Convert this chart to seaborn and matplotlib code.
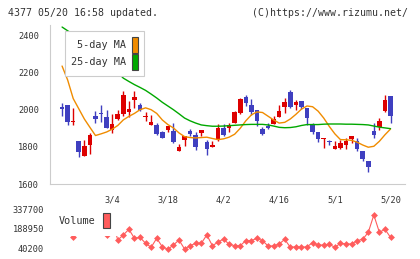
import numpy as np
import matplotlib
matplotlib.use("Agg")
import matplotlib.pyplot as plt
from matplotlib.patches import Patch
import seaborn as sns

sns.set_theme(style="white")
plt.rcParams['font.family'] = ['DejaVu Sans Mono', 'DejaVu Sans']

# daily candles (61 trading days up to 5/20)
opens = [2056, 2016, 2027, 1932, 1834, 1750, 1809, 1968, 1984, 1962,
         1889, 1952, 1977, 1989, 2052, 2027, 1962, 1916, 1920, 1878,
         1889, 1887, 1777, 1839, 1884, 1866, 1875, 1825, 1798, 1839,
         1902, 1902, 1929, 1982, 2071, 2027, 2000, 1896, 1914, 1923,
         1959, 2014, 2093, 2027, 2045, 2009, 1920, 1880, 1841, 1834,
         1789, 1795, 1812, 1843, 1830, 1777, 1723, 1887, 1907, 1991, 2075]
highs = [2060, 2036, 2027, 2009, 1834, 1836, 1875, 1995, 2023, 1998,
         1979, 2000, 2102, 2047, 2098, 2036, 1986, 1973, 1929, 1884,
         1914, 1929, 1816, 1861, 1896, 1878, 1893, 1836, 1830, 1923,
         1921, 1929, 1991, 2063, 2080, 2057, 2000, 1907, 1929, 1964,
         2023, 2063, 2107, 2054, 2045, 2009, 1929, 1880, 1845, 1839,
         1830, 1839, 1848, 1861, 1848, 1777, 1723, 1929, 1955, 2080, 2075]
lows = [2056, 1968, 1916, 1918, 1744, 1750, 1759, 1927, 1934, 1900,
        1873, 1946, 1964, 1961, 2007, 1991, 1941, 1916, 1866, 1848,
        1878, 1821, 1777, 1803, 1857, 1782, 1857, 1755, 1798, 1830,
        1857, 1878, 1929, 1979, 2018, 1973, 1911, 1862, 1896, 1923,
        1959, 1982, 2010, 2000, 2004, 1920, 1871, 1827, 1795, 1812,
        1786, 1786, 1789, 1821, 1777, 1723, 1664, 1848, 1893, 1986, 1929]
closes = [2060, 2002, 1932, 1941, 1771, 1802, 1862, 1952, 1975, 1900,
          1921, 1979, 2080, 2005, 2071, 2000, 1966, 1934, 1871, 1848,
          1914, 1828, 1800, 1861, 1868, 1800, 1893, 1791, 1812, 1902,
          1862, 1920, 1986, 2057, 2036, 1986, 1938, 1871, 1902, 1950,
          1991, 2039, 2014, 2041, 2012, 1955, 1878, 1843, 1845, 1825,
          1807, 1821, 1830, 1861, 1786, 1732, 1693, 1866, 1941, 2054, 1964]

ma5 = [np.nan, 2235, 2160, 2060, 2005, 1950, 1905, 1861, 1870, 1880,
       1895, 1915, 1945, 1964, 1980, 2000, 2010, 2000, 1980, 1945,
       1920, 1902, 1875, 1855, 1850, 1848, 1850, 1852, 1845, 1839,
       1843, 1852, 1868, 1900, 1940, 1972, 1988, 1985, 1965, 1945,
       1928, 1932, 1950, 1975, 2003, 2020, 2016, 1992, 1955, 1910,
       1870, 1839, 1838, 1835, 1825, 1810, 1798, 1803, 1830, 1865, 1896]
ma25 = [np.nan, 2445, 2425, 2405, 2385, 2365, 2345, 2325, 2300, 2275,
        2245, 2200, 2170, 2152, 2135, 2120, 2104, 2084, 2063, 2040,
        2020, 2000, 1978, 1955, 1940, 1928, 1918, 1914, 1911, 1911,
        1912, 1914, 1916, 1918, 1920, 1921, 1921, 1921, 1918, 1912,
        1905, 1903, 1904, 1908, 1915, 1920, 1920, 1920, 1922, 1923,
        1923, 1923, 1922, 1922, 1921, 1920, 1918, 1912, 1906, 1902, 1898]

volume = [np.nan, 230000, 210000, 128000, 220000, 240000, 250000, 225000, 210000, 141000,
          258000, 103000, 141000, 184000, 116000, 123000, 78000, 48000, 116000, 52000,
          33000, 65000, 103000, 35000, 60000, 78000, 78000, 141000, 60000, 86000,
          111000, 70000, 60000, 60000, 98000, 98000, 116000, 98000, 58000, 58000,
          73000, 108000, 48000, 52000, 48000, 52000, 83000, 65000, 65000, 70000,
          48000, 78000, 73000, 73000, 98000, 108000, 161000, 292000, 161000, 184000, 123000]

date_pos = [10, 20, 30, 40, 50, 60]
date_labels = ['3/4', '3/18', '4/2', '4/16', '5/1', '5/20']
price_ticks = [1600, 1800, 2000, 2200, 2400]
vol_ticks = [40200, 188950, 337700]

RED = '#dd0000'
BLUE = '#3f3fc0'
ORANGE = '#f08c00'
GREEN = '#00a800'
VOLRED = '#ff5c5c'
GRID = '#cccccc'
TXT = '#333333'

idx = np.arange(len(closes))
o = np.array(opens); c = np.array(closes)
colors = [RED if cc >= oo else BLUE for oo, cc in zip(o, c)]

fig = plt.figure(figsize=(4.2, 2.59), dpi=100)
W, H = 420, 259
ax = fig.add_axes([50 / W, 1 - 184 / H, 355 / W, 159 / H])
axv = fig.add_axes([50 / W, 1 - 252 / H, 355 / W, 47 / H])

# candles
ax.vlines(idx, lows, highs, colors=colors, linewidth=1, zorder=3)
body = np.where(np.abs(c - o) < 3, 3, c - o)
ax.bar(idx, body, bottom=o, width=0.82, color=colors, linewidth=0, zorder=3)

sns.lineplot(x=idx, y=ma5, ax=ax, color=ORANGE, linewidth=1, zorder=4)
sns.lineplot(x=idx, y=ma25, ax=ax, color=GREEN, linewidth=1, zorder=4)

xmin, xmax = -1.17, 62.6
ax.set_xlim(xmin, xmax)
ax.set_ylim(1600, 2456)
ax.set_yticks(price_ticks)
ax.set_xticks(date_pos)
ax.set_xticklabels(date_labels)
ax.set_xticks(np.linspace(xmin, xmax, 12), minor=True)
ax.tick_params(axis='x', which='major', length=0, pad=8, labelsize=6.2, colors=TXT)
ax.tick_params(axis='x', which='minor', length=3.6, width=0.8, color=GRID, direction='out')
ax.tick_params(axis='y', which='major', length=5.8, width=0.8, color=GRID, direction='inout',
               pad=4.8, labelsize=6.2, labelcolor=TXT)
for s in ['top', 'right']:
    ax.spines[s].set_visible(False)
for s in ['left', 'bottom']:
    ax.spines[s].set_color(GRID)
    ax.spines[s].set_linewidth(0.8)
ax.set_xlabel('')
ax.set_ylabel('')

leg = ax.legend(handles=[Patch(facecolor=ORANGE, edgecolor='#444444', linewidth=0.8),
                         Patch(facecolor=GREEN, edgecolor='#444444', linewidth=0.8)],
                labels=['5-day MA', '25-day MA'], markerfirst=False,
                loc='upper left', bbox_to_anchor=(65 / W, 1 - 31 / H),
                bbox_transform=fig.transFigure, borderaxespad=0,
                fontsize=7.3, handlelength=0.6, handleheight=2.05, handletextpad=0.6,
                labelspacing=0.12, borderpad=0.6, fancybox=False, framealpha=1,
                edgecolor=GRID, facecolor='white')
leg.get_frame().set_linewidth(0.8)
leg.set_zorder(10)
for t in leg.get_texts():
    t.set_color(TXT)

# volume panel
sns.lineplot(x=idx, y=volume, ax=axv, color=VOLRED, linewidth=0.8, marker='D',
             markersize=3.5, markeredgewidth=0, clip_on=False)
axv.set_xlim(xmin, xmax)
axv.set_ylim(12200, 368000)
axv.set_yticks(vol_ticks)
axv.set_yticklabels([str(v) for v in vol_ticks])
axv.set_xticks([])
axv.tick_params(axis='y', length=0, pad=4.1, labelsize=6.2, labelcolor=TXT)
for s in axv.spines.values():
    s.set_visible(False)
axv.set_xlabel('')
axv.set_ylabel('')

vleg = axv.legend(handles=[Patch(facecolor=VOLRED, edgecolor='#444444', linewidth=0.8)],
                  labels=['Volume'], markerfirst=False,
                  loc='upper left', bbox_to_anchor=(51 / W, 1 - 205 / H),
                  bbox_transform=fig.transFigure, borderaxespad=0,
                  fontsize=7.3, handlelength=0.65, handleheight=1.9, handletextpad=0.75,
                  borderpad=0.8, fancybox=False, framealpha=1,
                  edgecolor='none', facecolor='white')
vleg.set_zorder(10)
for t in vleg.get_texts():
    t.set_color(TXT)

fig.text(8 / W, 1 - 12.5 / H, '4377 05/20 16:58 updated.', fontsize=7.1, color=TXT,
         ha='left', va='center')
fig.text(408 / W, 1 - 12.5 / H, '(C)https://www.rizumu.net/', fontsize=7.1, color=TXT,
         ha='right', va='center')

fig.savefig('out.png', dpi=100)
